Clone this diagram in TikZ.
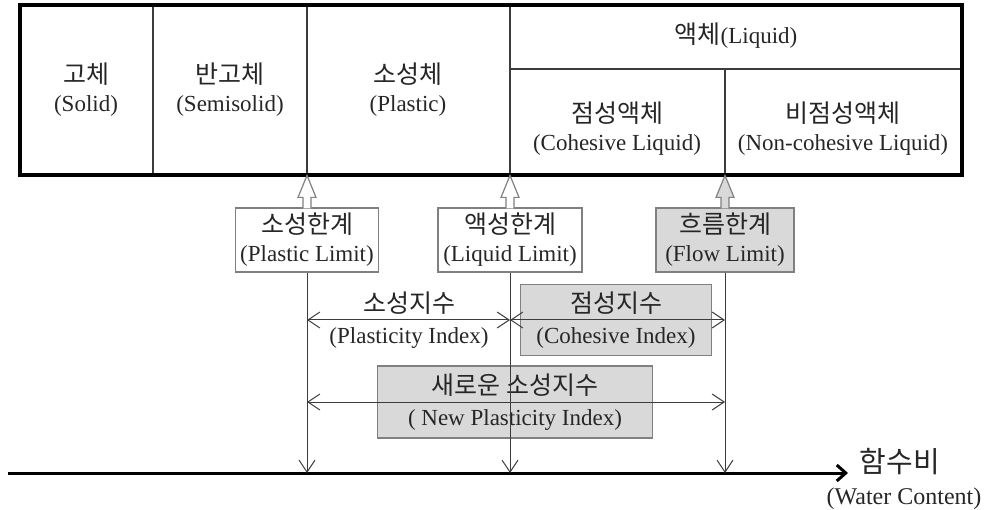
\documentclass[tikz,border=0pt]{standalone}
\usepackage{fontspec}
\setmainfont{Liberation Serif}
\newfontfamily\krfont{Noto Sans CJK KR}
\usetikzlibrary{arrows.meta,positioning}

\definecolor{boxgray}{RGB}{217,217,217}
\definecolor{edgegray}{RGB}{128,128,128}
\definecolor{linegray}{RGB}{60,60,60}

\newcommand{\ko}[1]{{\krfont\fontsize{25}{28}\selectfont #1}}

\tikzset{
  txt/.style={align=center,inner sep=0pt,font=\fontsize{23}{28}\selectfont,text=black!85},
  limitbox/.style={txt,draw=edgegray,line width=1.2pt,minimum height=64pt},
  indextxt/.style={txt,font=\fontsize{23}{31}\selectfont},
  indexbox/.style={indextxt,draw=edgegray,fill=boxgray,line width=1.2pt},
  dimline/.style={linegray,line width=1pt,{Straight Barb[length=12pt,width=16pt]}-{Straight Barb[length=12pt,width=16pt]}},
  downline/.style={linegray,line width=1pt,-{Straight Barb[length=12pt,width=16pt]}}
}

\begin{document}
\begin{tikzpicture}[x=1pt,y=-1pt]
\useasboundingbox (0,0) rectangle (990,510);

% states of the soil
\draw[linegray,line width=1.2pt] (153,5)--(153,175) (307,5)--(307,175) (510,5)--(510,175)
     (510,69)--(962,69) (725,69)--(725,175);
\draw[line width=3.5pt] (20,5) rectangle (962,175);

\node[txt] (solid)   at (86,90)  {\ko{고체}\\(Solid)};
\node[txt] (semi)    at (230,90) {\ko{반고체}\\(Semisolid)};
\node[txt] (plastic) at (408,90) {\ko{소성체}\\(Plastic)};
\node[txt] (liquid)  at (736,36) {\ko{액체}(Liquid)};
\node[txt] (cohliq)  at (617,129) {\ko{점성액체}\\(Cohesive Liquid)};
\node[txt] (ncohliq) at (843,129) {\ko{비점성액체}\\(Non-cohesive Liquid)};

% limits
\node[limitbox,minimum width=143pt] (pl) at (307,240) {\ko{소성한계}\\(Plastic Limit)};
\node[limitbox,minimum width=144pt] (ll) at (510,240) {\ko{액성한계}\\(Liquid Limit)};
\node[limitbox,minimum width=138pt,fill=boxgray] (fl) at (725,240) {\ko{흐름한계}\\(Flow Limit)};

\foreach \b/\c in {pl/white,ll/white,fl/boxgray}
  \filldraw[draw=edgegray,fill=\c,line width=1.2pt] (\b.north) ++(-4,1) -- ++(0,-11) -- ++(-5,0)
     -- ++(9,-22) -- ++(9,22) -- ++(-5,0) -- ++(0,11);

% indices
\node[indextxt] (pi) at (409,320) {\ko{소성지수}\\(Plasticity Index)};
\node[indexbox,minimum width=191pt,minimum height=71pt] (ci) at (616,320) {\ko{점성지수}\\(Cohesive Index)};
\node[indexbox,minimum width=275pt,minimum height=72pt] (npi) at (515,402) {\ko{새로운 소성지수}\\( New Plasticity Index)};

% water content axis
\coordinate (ax0) at (8,473);
\coordinate (ax1) at (848,473);
\draw[line width=3pt,-{Straight Barb[length=9pt,width=16pt]}] (ax0) -- (ax1);
\node[txt] (wck) at (900,462) {\krfont\fontsize{29}{30}\selectfont 함수비};
\node[txt,font=\fontsize{24}{28}\selectfont] (wce) at (904,499) {(Water Content)};

\foreach \b in {pl,ll,fl}
  \draw[downline] (\b.south) -- (\b.south |- ax0);

\draw[dimline] (pl.south |- pi) -- (ll.south |- pi);
\draw[dimline] (ll.south |- ci) -- (fl.south |- ci);
\draw[dimline] (pl.south |- npi) -- (fl.south |- npi);

\end{tikzpicture}
\end{document}
